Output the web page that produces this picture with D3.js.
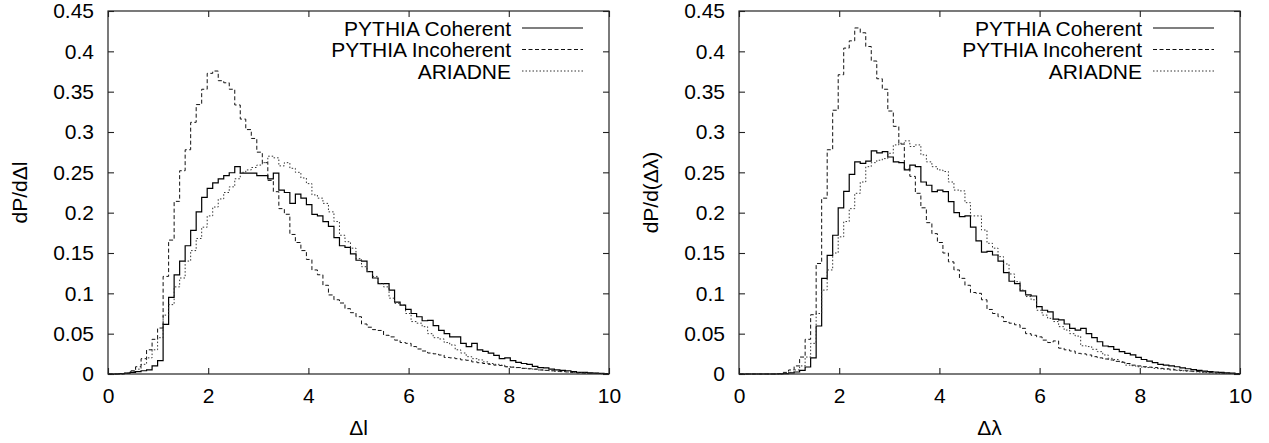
<!DOCTYPE html>
<html>
<head>
<meta charset="utf-8">
<script src="https://cdn.jsdelivr.net/npm/d3@7"></script>
<style>
  html, body { margin: 0; padding: 0; background: #fff; }
  svg { display: block; }
</style>
</head>
<body>
<div id="chart"></div>
<script>
// bin width of the histograms (edges at k * binWidth)
const binWidth = 0.11;
const xTicks = [0, 2, 4, 6, 8, 10];
const yTicks = [0, 0.05, 0.1, 0.15, 0.2, 0.25, 0.3, 0.35, 0.4, 0.45];
const seriesNames = ["PYTHIA Coherent", "PYTHIA Incoherent", "ARIADNE"];

// left panel: dP/dΔl
const leftCoherent = [
  0, 0, 0.0005, 0.001, 0.002, 0.003, 0.004, 0.005, 0.01, 0.0165,
  0.0615, 0.095, 0.123, 0.14, 0.159, 0.178, 0.201, 0.219, 0.23, 0.237,
  0.242, 0.246, 0.2495, 0.257, 0.249, 0.249, 0.249, 0.246, 0.246, 0.242,
  0.249, 0.228, 0.225, 0.2115, 0.223, 0.218, 0.21, 0.198, 0.196, 0.189,
  0.183, 0.169, 0.159, 0.157, 0.149, 0.141, 0.14, 0.127, 0.119, 0.112,
  0.112, 0.104, 0.089, 0.0855, 0.08, 0.075, 0.071, 0.066, 0.0665, 0.06,
  0.054, 0.05, 0.046, 0.046, 0.038, 0.034, 0.038, 0.03, 0.028, 0.026,
  0.023, 0.019, 0.02, 0.0165, 0.0145, 0.013, 0.012, 0.0095, 0.008, 0.0075,
  0.006, 0.005, 0.0045, 0.004, 0.003, 0.002, 0.002, 0.0015, 0.001, 0.0008,
  0.0005
];
const leftIncoherent = [
  0, 0, 0.0003, 0.001, 0.004, 0.009, 0.019, 0.03, 0.043, 0.057,
  0.121, 0.166, 0.214, 0.252, 0.278, 0.312, 0.334, 0.353, 0.3727, 0.3756,
  0.3636, 0.361, 0.353, 0.3335, 0.316, 0.303, 0.292, 0.275, 0.262, 0.24,
  0.226, 0.205, 0.198, 0.173, 0.163, 0.153, 0.142, 0.129, 0.123, 0.11,
  0.098, 0.092, 0.088, 0.081, 0.076, 0.071, 0.062, 0.058, 0.055, 0.054,
  0.048, 0.046, 0.042, 0.039, 0.038, 0.034, 0.031, 0.0285, 0.026, 0.025,
  0.0235, 0.0205, 0.02, 0.019, 0.0175, 0.017, 0.015, 0.014, 0.013, 0.012,
  0.011, 0.0105, 0.009, 0.0085, 0.008, 0.007, 0.0065, 0.006, 0.005, 0.0045,
  0.004, 0.0035, 0.003, 0.0025, 0.002, 0.0015, 0.0012, 0.001, 0.0008, 0.0005,
  0.0003
];
const leftAriadne = [
  0, 0, 0, 0.001, 0.003, 0.006, 0.012, 0.02, 0.03, 0.045,
  0.073, 0.086, 0.108, 0.119, 0.14, 0.153, 0.168, 0.182, 0.196, 0.207,
  0.217, 0.225, 0.232, 0.242, 0.25, 0.253, 0.256, 0.259, 0.262, 0.27,
  0.268, 0.258, 0.262, 0.255, 0.25, 0.243, 0.236, 0.222, 0.218, 0.2115,
  0.201, 0.189, 0.172, 0.164, 0.156, 0.143, 0.133, 0.127, 0.121, 0.112,
  0.108, 0.094, 0.0876, 0.0855, 0.075, 0.065, 0.063, 0.0587, 0.05, 0.045,
  0.0434, 0.039, 0.036, 0.03, 0.026, 0.0215, 0.019, 0.0175, 0.015, 0.013,
  0.012, 0.011, 0.009, 0.0085, 0.008, 0.007, 0.0065, 0.006, 0.005, 0.0045,
  0.004, 0.0035, 0.003, 0.0025, 0.002, 0.0015, 0.0012, 0.001, 0.0008, 0.0005,
  0.0003
];

// right panel: dP/d(Δλ)
const rightCoherent = [
  0, 0, 0, 0, 0, 0, 0, 0.0002, 0.0005, 0.0015,
  0.0025, 0.0045, 0.0087, 0.02, 0.0595, 0.1186, 0.147, 0.172, 0.206, 0.2265,
  0.2475, 0.263, 0.261, 0.264, 0.2765, 0.274, 0.2756, 0.269, 0.263, 0.262,
  0.253, 0.259, 0.257, 0.238, 0.234, 0.226, 0.228, 0.226, 0.2136, 0.2,
  0.195, 0.196, 0.182, 0.165, 0.151, 0.152, 0.1475, 0.14, 0.1256, 0.115,
  0.112, 0.103, 0.098, 0.0967, 0.0835, 0.079, 0.077, 0.068, 0.067, 0.062,
  0.0566, 0.0545, 0.0566, 0.05, 0.045, 0.04, 0.0347, 0.034, 0.0306, 0.0277,
  0.0256, 0.0236, 0.0207, 0.018, 0.016, 0.014, 0.012, 0.011, 0.01, 0.009,
  0.0075, 0.0065, 0.0055, 0.0045, 0.0035, 0.003, 0.0025, 0.002, 0.0015, 0.001,
  0.0005
];
const rightIncoherent = [
  0, 0, 0, 0, 0, 0, 0, 0.0005, 0.002, 0.005,
  0.01, 0.021, 0.043, 0.0735, 0.137, 0.218, 0.278, 0.327, 0.371, 0.404,
  0.413, 0.429, 0.423, 0.406, 0.388, 0.366, 0.353, 0.326, 0.307, 0.285,
  0.254, 0.245, 0.224, 0.206, 0.1876, 0.174, 0.163, 0.15, 0.139, 0.129,
  0.1186, 0.11, 0.101, 0.1, 0.092, 0.08, 0.075, 0.071, 0.065, 0.063,
  0.061, 0.0566, 0.05, 0.048, 0.046, 0.042, 0.039, 0.041, 0.032, 0.03,
  0.0285, 0.0256, 0.025, 0.0236, 0.0215, 0.02, 0.0186, 0.0174, 0.0157, 0.0145,
  0.013, 0.011, 0.01, 0.009, 0.0085, 0.008, 0.007, 0.0065, 0.006, 0.005,
  0.0045, 0.004, 0.0035, 0.003, 0.0025, 0.002, 0.0015, 0.0012, 0.001, 0.0007,
  0.0004
];
const rightAriadne = [
  0, 0, 0, 0, 0, 0, 0, 0, 0.0005, 0.002,
  0.005, 0.01, 0.021, 0.038, 0.075, 0.104, 0.129, 0.15, 0.17, 0.189,
  0.205, 0.224, 0.238, 0.257, 0.262, 0.265, 0.267, 0.2736, 0.284, 0.286,
  0.289, 0.282, 0.284, 0.2717, 0.263, 0.257, 0.253, 0.251, 0.238, 0.228,
  0.227, 0.2124, 0.196, 0.196, 0.1785, 0.162, 0.156, 0.1455, 0.1364, 0.124,
  0.1145, 0.104, 0.096, 0.092, 0.079, 0.073, 0.069, 0.065, 0.0587, 0.0545,
  0.05, 0.047, 0.035, 0.034, 0.0306, 0.0277, 0.0236, 0.0194, 0.018, 0.0153,
  0.011, 0.0103, 0.009, 0.0085, 0.008, 0.007, 0.0065, 0.006, 0.005, 0.0045,
  0.004, 0.0035, 0.003, 0.0025, 0.002, 0.0015, 0.0012, 0.001, 0.0008, 0.0005,
  0.0003
];

const width = 1269, height = 443;
const font = "'Liberation Sans', Arial, Helvetica, sans-serif";
const fontSize = 21;

// line styles: solid, dashed, dotted
const styles = [
  { dash: null, width: 1.2, color: "#000" },
  { dash: "4,2.5", width: 1, color: "#111" },
  { dash: "1.5,2", width: 1, color: "#333" }
];

const svg = d3.select("#chart").append("svg")
  .attr("width", width)
  .attr("height", height)
  .attr("viewBox", [0, 0, width, height])
  .style("background", "#fff")
  .attr("font-family", font)
  .attr("font-size", fontSize);

drawPanel({ left: 108, right: 609, top: 11, bottom: 374 },
  [leftCoherent, leftIncoherent, leftAriadne], "dP/dΔl", "Δl");
drawPanel({ left: 739, right: 1240, top: 11, bottom: 374 },
  [rightCoherent, rightIncoherent, rightAriadne], "dP/d(Δλ)", "Δλ");

function drawPanel(box, series, yTitle, xTitle) {
  const x = d3.scaleLinear([0, 10], [box.left, box.right]);
  const y = d3.scaleLinear([0, 0.45], [box.bottom, box.top]);
  const g = svg.append("g");

  // axes with inward ticks (bottom/left labelled, top/right mirrored)
  const axes = [
    [d3.axisBottom(x).tickValues(xTicks).tickFormat(d3.format("d")), `translate(0,${box.bottom})`],
    [d3.axisTop(x).tickValues(xTicks).tickFormat(""), `translate(0,${box.top})`],
    [d3.axisLeft(y).tickValues(yTicks).tickFormat(d => d === 0 ? "0" : String(+d.toFixed(2))), `translate(${box.left},0)`],
    [d3.axisRight(y).tickValues(yTicks).tickFormat(""), `translate(${box.right},0)`]
  ];
  axes.forEach(([ax, tr]) => {
    const a = g.append("g")
      .attr("transform", tr)
      .call(ax.tickSizeInner(-6).tickSizeOuter(0).tickPadding(14));
    a.select(".domain").remove();
    a.selectAll("line").attr("stroke", "#222").attr("stroke-width", 1.1);
    a.selectAll("text")
      .attr("font-family", font)
      .attr("font-size", fontSize)
      .attr("fill", "#000");
  });

  // histograms
  const line = d3.line()
    .x(d => x(d[0]))
    .y(d => y(d[1]))
    .curve(d3.curveStepAfter);

  series.forEach((vals, i) => {
    const pts = vals.map((v, k) => [Math.min(k * binWidth, 10), v]);
    pts.push([10, vals[vals.length - 1]]);
    const st = styles[i];
    g.append("path")
      .datum(pts)
      .attr("fill", "none")
      .attr("stroke", st.color)
      .attr("stroke-width", st.width)
      .attr("stroke-dasharray", st.dash)
      .attr("d", line);
  });

  // frame
  g.append("rect")
    .attr("x", box.left)
    .attr("y", box.top)
    .attr("width", box.right - box.left)
    .attr("height", box.bottom - box.top)
    .attr("fill", "none")
    .attr("stroke", "#222")
    .attr("stroke-width", 1.2);

  // legend (top right inside the frame)
  seriesNames.forEach((name, i) => {
    const ly = 28 + i * 21.5;
    const st = styles[i];
    g.append("text")
      .attr("x", box.right - 98)
      .attr("y", ly + 7.5)
      .attr("text-anchor", "end")
      .text(name);
    g.append("line")
      .attr("x1", box.right - 87)
      .attr("x2", box.right - 26)
      .attr("y1", ly)
      .attr("y2", ly)
      .attr("stroke", st.color)
      .attr("stroke-width", st.width)
      .attr("stroke-dasharray", st.dash);
  });

  // axis titles
  g.append("text")
    .attr("text-anchor", "middle")
    .attr("transform", `translate(${box.left - 81},${(box.top + box.bottom) / 2}) rotate(-90)`)
    .text(yTitle);
  g.append("text")
    .attr("x", (box.left + box.right) / 2)
    .attr("y", 435)
    .attr("text-anchor", "middle")
    .text(xTitle);
}
</script>
</body>
</html>
